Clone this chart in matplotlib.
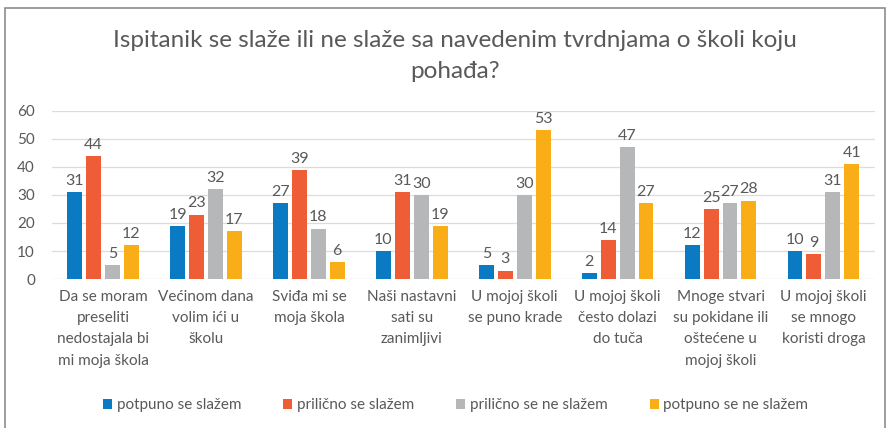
import matplotlib
matplotlib.use("Agg")
import matplotlib.pyplot as plt
import numpy as np
from matplotlib.patches import Rectangle

TITLE = "Ispitanik se slaže ili ne slaže sa navedenim tvrdnjama o školi koju\npohađa?"

CATEGORIES = [
    "Da se moram\npreseliti\nnedostajala bi\nmi moja škola",
    "Većinom dana\nvolim ići u\nškolu",
    "Sviđa mi se\nmoja škola",
    "Naši nastavni\nsati su\nzanimljivi",
    "U mojoj školi\nse puno krade",
    "U mojoj školi\nčesto dolazi\ndo tuča",
    "Mnoge stvari\nsu pokidane ili\noštećene u\nmojoj školi",
    "U mojoj školi\nse mnogo\nkoristi droga",
]
SERIES = ["potpuno se slažem", "prilično se slažem", "prilično se ne slažem", "potpuno se ne slažem"]
POTPUNO_DA = [31, 19, 27, 10, 5, 2, 12, 10]
PRILICNO_DA = [44, 23, 39, 31, 3, 14, 25, 9]
PRILICNO_NE = [5, 32, 18, 30, 30, 47, 27, 31]
POTPUNO_NE = [12, 17, 6, 19, 53, 27, 28, 41]

COLORS = ["#0a7bc2", "#ee5d35", "#b6b7b9", "#f9ad17"]
INK = "#595959"
GRID = "#dcdcdc"

plt.rcParams["font.family"] = ["Lato", "DejaVu Sans"]

fig = plt.figure(figsize=(8.9, 4.28), dpi=100)
ax = fig.add_axes([0.058, 0.348, 0.925, 0.393])

values = [POTPUNO_DA, PRILICNO_DA, PRILICNO_NE, POTPUNO_NE]
x = np.arange(len(CATEGORIES))
width = 0.145
pitch = 0.184
for i, (name, vals, color) in enumerate(zip(SERIES, values, COLORS)):
    pos = x + (i - 1.5) * pitch
    bars = ax.bar(pos, vals, width=width, color=color, label=name, zorder=3)
    for bar, v in zip(bars, vals):
        ax.text(bar.get_x() + bar.get_width() / 2, v + 1.5, str(v),
                ha="center", va="bottom", fontsize=11.5, color=INK)

ax.set_xlim(-0.5, len(CATEGORIES) - 0.5)
ax.set_ylim(0, 60)
ax.set_yticks(range(0, 61, 10))
ax.set_xticks(x)
ax.set_xticklabels(CATEGORIES, fontsize=11, color=INK, linespacing=1.65, va="top")
ax.tick_params(axis="both", length=0, labelcolor=INK)
ax.tick_params(axis="y", labelsize=11, pad=12)
ax.tick_params(axis="x", pad=8)
for s in ax.spines.values():
    s.set_visible(False)
ax.grid(axis="y", color=GRID, linewidth=0.9, zorder=0)
ax.set_axisbelow(True)

fig.text(0.511, 0.929, TITLE, ha="center", va="top", fontsize=17.5, color=INK, linespacing=1.55)

fig.legend(loc="center", bbox_to_anchor=(0.512, 0.053), ncol=4, frameon=False,
           fontsize=11, labelcolor=INK, handlelength=0.6, handleheight=0.6,
           handletextpad=0.3, columnspacing=2.75)

fig.patches.append(Rectangle((5 / 890, -0.05), 880 / 890, 1 - 8 / 428 + 0.05,
                             transform=fig.transFigure, fill=False,
                             edgecolor="#8c8c8c", linewidth=1.2))

fig.savefig("out.png", dpi=100)
